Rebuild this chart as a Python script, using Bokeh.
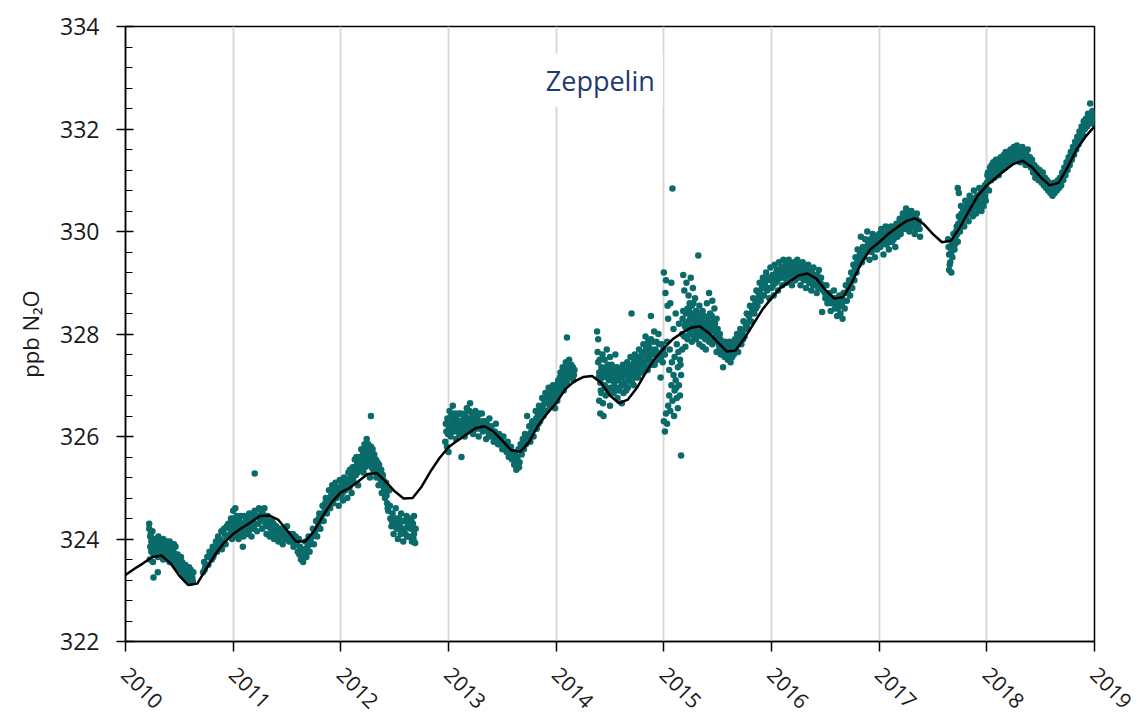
import numpy as np
from bokeh.plotting import figure
from bokeh.models import Range1d, SingleIntervalTicker, FixedTicker, Label
from bokeh.embed import file_html
from bokeh.resources import INLINE

# ---------------- data ----------------
# smoothed fit curve, monthly values (Jan..Dec) per year, plus the end value at 2019.0
fit_2010 = [323.30, 323.42, 323.53, 323.65, 323.68, 323.53, 323.28, 323.10, 323.13, 323.42, 323.70, 323.93]
fit_2011 = [324.10, 324.22, 324.33, 324.45, 324.46, 324.38, 324.17, 323.95, 323.95, 324.15, 324.45, 324.72]
fit_2012 = [324.91, 325.00, 325.13, 325.27, 325.29, 325.12, 324.93, 324.79, 324.80, 325.02, 325.32, 325.58]
fit_2013 = [325.79, 325.92, 326.04, 326.16, 326.20, 326.10, 325.92, 325.73, 325.70, 325.90, 326.22, 326.45]
fit_2014 = [326.65, 326.92, 327.07, 327.16, 327.18, 327.05, 326.80, 326.65, 326.72, 326.95, 327.25, 327.52]
fit_2015 = [327.72, 327.90, 328.02, 328.12, 328.15, 328.02, 327.84, 327.66, 327.68, 327.92, 328.20, 328.48]
fit_2016 = [328.70, 328.90, 329.02, 329.14, 329.18, 329.08, 328.86, 328.69, 328.72, 329.02, 329.38, 329.65]
fit_2017 = [329.79, 329.95, 330.08, 330.20, 330.26, 330.14, 329.95, 329.79, 329.82, 330.08, 330.40, 330.70]
fit_2018 = [330.90, 331.05, 331.19, 331.32, 331.38, 331.26, 331.06, 330.90, 330.95, 331.25, 331.60, 331.85]
fit_end = [332.05]
fit_years = [2010, 2011, 2012, 2013, 2014, 2015, 2016, 2017, 2018]

# observations: (decimal year, ppb)
obs_2010 = [(2010.22, 324.30), (2010.22, 324.20), (2010.23, 324.05), (2010.23, 323.85), (2010.24, 323.95),
            (2010.24, 323.75), (2010.25, 324.15), (2010.25, 323.90), (2010.26, 323.70), (2010.26, 323.25),
            (2010.27, 323.85), (2010.28, 324.00), (2010.28, 323.80), (2010.29, 323.95), (2010.30, 323.65),
            (2010.30, 323.35), (2010.31, 323.90), (2010.32, 323.75), (2010.33, 323.95), (2010.34, 323.85),
            (2010.35, 323.60), (2010.35, 324.00), (2010.36, 323.80), (2010.37, 323.95), (2010.38, 323.70),
            (2010.39, 323.85), (2010.40, 323.90), (2010.41, 323.55), (2010.41, 323.95), (2010.42, 323.75),
            (2010.43, 323.85), (2010.44, 323.65), (2010.45, 323.90), (2010.46, 323.50), (2010.47, 323.70),
            (2010.48, 323.60), (2010.49, 323.40), (2010.50, 323.65), (2010.51, 323.55), (2010.52, 323.45),
            (2010.53, 323.30), (2010.54, 323.50), (2010.55, 323.40), (2010.56, 323.25), (2010.57, 323.35),
            (2010.58, 323.20), (2010.59, 323.45), (2010.60, 323.30), (2010.61, 323.15), (2010.62, 323.25),
            (2010.63, 323.35), (2010.72, 323.35), (2010.73, 323.55), (2010.74, 323.45), (2010.76, 323.65),
            (2010.77, 323.50), (2010.78, 323.75), (2010.80, 323.60), (2010.81, 323.85), (2010.82, 323.70),
            (2010.84, 323.95), (2010.85, 323.75), (2010.86, 324.05), (2010.88, 323.85), (2010.89, 324.15),
            (2010.90, 323.95), (2010.92, 324.10), (2010.93, 323.90), (2010.94, 324.25), (2010.96, 324.05),
            (2010.97, 324.20), (2010.98, 324.40), (2010.99, 324.00),
            (2010.225, 323.60), (2010.235, 324.10), (2010.245, 323.80), (2010.255, 323.55), (2010.265, 324.00),
            (2010.275, 323.70), (2010.285, 323.90), (2010.295, 323.80), (2010.305, 324.05), (2010.315, 323.70),
            (2010.325, 323.85), (2010.335, 323.65), (2010.345, 323.95), (2010.355, 323.75), (2010.365, 323.65),
            (2010.375, 323.85), (2010.385, 323.95), (2010.395, 323.60), (2010.405, 323.80), (2010.415, 323.70),
            (2010.425, 323.90), (2010.435, 323.60), (2010.445, 323.75), (2010.455, 323.55), (2010.465, 323.85),
            (2010.475, 323.45), (2010.485, 323.70), (2010.495, 323.50), (2010.505, 323.40), (2010.515, 323.65),
            (2010.525, 323.55), (2010.535, 323.40), (2010.545, 323.30), (2010.555, 323.50), (2010.565, 323.20),
            (2010.575, 323.40), (2010.585, 323.30), (2010.595, 323.15), (2010.605, 323.40), (2010.615, 323.30),
            (2010.625, 323.18), (2010.735, 323.40), (2010.755, 323.50), (2010.775, 323.65), (2010.795, 323.75),
            (2010.815, 323.65), (2010.835, 323.80), (2010.855, 323.90), (2010.875, 324.00), (2010.895, 323.80),
            (2010.915, 324.20), (2010.935, 324.05), (2010.955, 324.30), (2010.975, 324.10), (2010.995, 324.30)]
obs_2011 = [(2011.00, 324.55), (2011.01, 324.20), (2011.02, 324.60), (2011.03, 324.10), (2011.04, 324.35),
            (2011.05, 324.00), (2011.06, 324.25), (2011.07, 324.45), (2011.08, 324.15), (2011.09, 323.85),
            (2011.10, 324.30), (2011.11, 324.20), (2011.12, 324.40), (2011.13, 324.10), (2011.14, 324.30),
            (2011.15, 324.50), (2011.16, 324.25), (2011.17, 324.05), (2011.18, 324.35), (2011.20, 325.28),
            (2011.20, 324.55), (2011.21, 324.30), (2011.22, 324.15), (2011.23, 324.45), (2011.24, 324.60),
            (2011.25, 324.35), (2011.26, 324.55), (2011.27, 324.20), (2011.28, 324.40), (2011.29, 324.60),
            (2011.30, 324.30), (2011.31, 324.10), (2011.32, 324.45), (2011.33, 324.25), (2011.34, 324.05),
            (2011.35, 324.20), (2011.36, 324.35), (2011.37, 324.15), (2011.38, 324.00), (2011.40, 324.25),
            (2011.41, 324.10), (2011.42, 323.95), (2011.44, 324.20), (2011.45, 324.05), (2011.46, 323.90),
            (2011.48, 324.15), (2011.49, 324.00), (2011.50, 324.25), (2011.52, 323.95), (2011.53, 324.10),
            (2011.55, 324.00), (2011.56, 323.85), (2011.58, 324.05), (2011.59, 323.90), (2011.60, 323.75),
            (2011.61, 324.00), (2011.62, 323.85), (2011.63, 323.60), (2011.64, 323.70), (2011.65, 323.55),
            (2011.66, 323.80), (2011.67, 323.95), (2011.68, 323.65), (2011.69, 323.85), (2011.70, 324.05),
            (2011.71, 323.75), (2011.72, 324.00), (2011.74, 324.20), (2011.75, 323.90), (2011.76, 324.10),
            (2011.77, 324.35), (2011.78, 324.05), (2011.79, 324.30), (2011.80, 324.50), (2011.81, 324.20),
            (2011.82, 324.45), (2011.83, 324.65), (2011.84, 324.35), (2011.85, 324.60), (2011.86, 324.80),
            (2011.87, 324.50), (2011.88, 324.75), (2011.89, 324.95), (2011.90, 324.60), (2011.91, 324.85),
            (2011.92, 325.05), (2011.93, 324.70), (2011.94, 324.95), (2011.95, 325.10), (2011.96, 324.80),
            (2011.97, 325.00), (2011.98, 324.65), (2011.99, 325.15),
            (2011.005, 324.40), (2011.015, 324.05), (2011.025, 324.30), (2011.035, 324.45), (2011.045, 324.15),
            (2011.055, 324.35), (2011.065, 324.10), (2011.075, 324.30), (2011.085, 324.25), (2011.095, 324.05),
            (2011.105, 324.45), (2011.115, 324.35), (2011.125, 324.20), (2011.135, 324.45), (2011.145, 324.15),
            (2011.155, 324.35), (2011.165, 324.40), (2011.175, 324.20), (2011.185, 324.50), (2011.195, 324.25),
            (2011.215, 324.45), (2011.235, 324.30), (2011.255, 324.45), (2011.275, 324.50), (2011.295, 324.40),
            (2011.315, 324.25), (2011.335, 324.35), (2011.355, 324.10), (2011.375, 324.30), (2011.395, 324.15),
            (2011.415, 324.20), (2011.435, 324.05), (2011.455, 324.15), (2011.475, 324.00), (2011.495, 324.10),
            (2011.515, 324.05), (2011.535, 323.95), (2011.555, 324.10), (2011.575, 323.95), (2011.595, 324.00),
            (2011.615, 323.70), (2011.635, 323.80), (2011.655, 323.65), (2011.675, 323.75), (2011.695, 323.95),
            (2011.715, 323.90), (2011.735, 324.05), (2011.755, 324.15), (2011.775, 324.20), (2011.795, 324.40),
            (2011.815, 324.35), (2011.835, 324.50), (2011.855, 324.70), (2011.875, 324.65), (2011.895, 324.80),
            (2011.915, 324.75), (2011.935, 324.90), (2011.955, 324.95), (2011.975, 324.85), (2011.995, 324.95)]
obs_2012 = [(2012.00, 324.85), (2012.01, 325.05), (2012.02, 324.75), (2012.03, 325.20), (2012.04, 324.95),
            (2012.05, 325.10), (2012.06, 324.80), (2012.07, 325.30), (2012.08, 325.00), (2012.09, 325.20),
            (2012.10, 324.90), (2012.11, 325.40), (2012.12, 325.10), (2012.13, 325.55), (2012.14, 325.25),
            (2012.15, 325.45), (2012.16, 325.05), (2012.17, 325.60), (2012.18, 325.35), (2012.19, 325.75),
            (2012.20, 325.50), (2012.21, 325.30), (2012.22, 325.85), (2012.23, 325.60), (2012.24, 325.95),
            (2012.25, 325.45), (2012.26, 325.70), (2012.27, 325.20), (2012.28, 326.40), (2012.28, 325.80),
            (2012.29, 325.55), (2012.30, 325.35), (2012.31, 325.65), (2012.32, 325.45), (2012.33, 325.20),
            (2012.34, 325.50), (2012.35, 325.05), (2012.36, 325.35), (2012.37, 325.15), (2012.38, 324.90),
            (2012.39, 325.25), (2012.40, 325.00), (2012.41, 324.80), (2012.42, 325.10), (2012.43, 324.70),
            (2012.44, 324.55), (2012.45, 324.95), (2012.46, 324.40), (2012.47, 324.25), (2012.48, 324.50),
            (2012.49, 324.10), (2012.50, 324.35), (2012.51, 324.60), (2012.52, 324.20), (2012.53, 324.00),
            (2012.54, 324.40), (2012.55, 324.25), (2012.56, 324.50), (2012.57, 324.15), (2012.58, 323.95),
            (2012.59, 324.35), (2012.60, 324.10), (2012.61, 324.45), (2012.62, 324.25), (2012.63, 324.05),
            (2012.64, 324.40), (2012.65, 324.20), (2012.66, 323.95), (2012.67, 324.30), (2012.68, 324.10),
            (2012.68, 324.45), (2012.69, 323.92), (2012.97, 325.90), (2012.98, 326.10), (2012.99, 326.35),
            (2012.005, 325.00), (2012.015, 324.90), (2012.025, 325.10), (2012.035, 324.95), (2012.045, 325.15),
            (2012.055, 325.00), (2012.065, 325.15), (2012.075, 325.05), (2012.085, 325.35), (2012.095, 325.10),
            (2012.105, 325.25), (2012.115, 325.15), (2012.125, 325.35), (2012.135, 325.40), (2012.145, 325.60),
            (2012.155, 325.30), (2012.165, 325.50), (2012.175, 325.40), (2012.185, 325.60), (2012.195, 325.45),
            (2012.205, 325.70), (2012.215, 325.55), (2012.225, 325.40), (2012.235, 325.75), (2012.245, 325.55),
            (2012.255, 325.85), (2012.265, 325.50), (2012.275, 325.65), (2012.285, 325.40), (2012.295, 325.75),
            (2012.305, 325.50), (2012.315, 325.30), (2012.325, 325.55), (2012.335, 325.35), (2012.345, 325.25),
            (2012.355, 325.45), (2012.365, 325.20), (2012.375, 325.35), (2012.385, 325.05), (2012.395, 325.15),
            (2012.405, 324.90), (2012.415, 325.00), (2012.425, 324.85), (2012.435, 324.60), (2012.455, 324.65),
            (2012.475, 324.35), (2012.495, 324.25), (2012.515, 324.40), (2012.535, 324.30), (2012.555, 324.10),
            (2012.575, 324.35), (2012.595, 324.20), (2012.615, 324.05), (2012.635, 324.30), (2012.655, 324.35),
            (2012.675, 324.00), (2012.695, 324.20), (2012.975, 326.25), (2012.985, 325.80), (2012.995, 326.05)]
obs_2013 = [(2013.00, 325.70), (2013.00, 326.20), (2013.01, 326.50), (2013.02, 326.00), (2013.03, 326.25),
            (2013.04, 326.60), (2013.05, 326.10), (2013.06, 326.35), (2013.07, 325.95), (2013.08, 326.20),
            (2013.09, 326.45), (2013.10, 326.05), (2013.11, 326.30), (2013.12, 325.60), (2013.13, 326.15),
            (2013.14, 326.40), (2013.15, 326.00), (2013.16, 326.25), (2013.17, 326.55), (2013.18, 326.10),
            (2013.19, 326.35), (2013.20, 326.65), (2013.21, 326.15), (2013.22, 326.45), (2013.23, 326.05),
            (2013.24, 326.30), (2013.25, 326.50), (2013.26, 326.20), (2013.27, 326.40), (2013.28, 326.00),
            (2013.30, 326.25), (2013.31, 326.45), (2013.32, 326.10), (2013.34, 326.30), (2013.35, 325.95),
            (2013.36, 326.15), (2013.38, 326.35), (2013.39, 326.00), (2013.40, 326.20), (2013.42, 325.90),
            (2013.43, 326.10), (2013.44, 326.25), (2013.46, 325.85), (2013.47, 326.05), (2013.48, 325.95),
            (2013.50, 325.75), (2013.51, 326.00), (2013.52, 325.85), (2013.54, 325.70), (2013.55, 325.90),
            (2013.56, 325.60), (2013.58, 325.80), (2013.59, 325.55), (2013.60, 325.70), (2013.61, 325.45),
            (2013.62, 325.65), (2013.63, 325.35), (2013.64, 325.55), (2013.65, 325.75), (2013.66, 325.50),
            (2013.67, 325.85), (2013.68, 325.65), (2013.69, 325.95), (2013.70, 325.75), (2013.71, 326.05),
            (2013.72, 325.85), (2013.73, 326.40), (2013.74, 326.00), (2013.75, 326.20), (2013.76, 325.90),
            (2013.77, 326.10), (2013.78, 326.30), (2013.79, 326.00), (2013.80, 326.25), (2013.81, 326.50),
            (2013.82, 326.15), (2013.83, 326.40), (2013.84, 326.60), (2013.85, 326.30), (2013.86, 326.55),
            (2013.87, 326.75), (2013.88, 326.40), (2013.89, 326.65), (2013.90, 326.85), (2013.91, 326.50),
            (2013.92, 326.75), (2013.93, 326.95), (2013.94, 326.60), (2013.95, 326.85), (2013.96, 326.65),
            (2013.97, 327.00), (2013.98, 326.80), (2013.99, 326.55),
            (2013.005, 326.35), (2013.015, 326.10), (2013.025, 326.40), (2013.035, 326.15), (2013.045, 326.30),
            (2013.055, 326.45), (2013.065, 326.20), (2013.075, 326.40), (2013.085, 326.10), (2013.095, 326.30),
            (2013.105, 326.20), (2013.115, 326.45), (2013.125, 326.25), (2013.135, 326.05), (2013.145, 326.30),
            (2013.155, 326.45), (2013.165, 326.15), (2013.175, 326.35), (2013.185, 326.25), (2013.195, 326.50),
            (2013.205, 326.30), (2013.215, 326.10), (2013.225, 326.35), (2013.235, 326.20), (2013.245, 326.45),
            (2013.255, 326.15), (2013.265, 326.35), (2013.275, 326.25), (2013.285, 326.45), (2013.295, 326.15),
            (2013.315, 326.30), (2013.335, 326.15), (2013.355, 326.25), (2013.375, 326.05), (2013.395, 326.15),
            (2013.415, 326.05), (2013.435, 325.95), (2013.455, 326.05), (2013.475, 325.85), (2013.495, 325.90),
            (2013.515, 325.80), (2013.535, 325.85), (2013.555, 325.75), (2013.575, 325.65), (2013.595, 325.60),
            (2013.615, 325.55), (2013.635, 325.60), (2013.655, 325.40), (2013.675, 325.75), (2013.695, 325.80),
            (2013.715, 325.95), (2013.735, 325.90), (2013.755, 326.05), (2013.775, 326.25), (2013.795, 326.15),
            (2013.815, 326.35), (2013.835, 326.25), (2013.855, 326.45), (2013.875, 326.55), (2013.895, 326.50),
            (2013.915, 326.65), (2013.935, 326.75), (2013.955, 326.70), (2013.975, 326.90), (2013.995, 326.75)]
obs_2014 = [(2014.00, 326.95), (2014.01, 326.70), (2014.02, 327.10), (2014.03, 326.85), (2014.04, 327.25),
            (2014.05, 327.00), (2014.06, 327.35), (2014.07, 326.90), (2014.08, 327.15), (2014.09, 327.45),
            (2014.10, 327.93), (2014.10, 327.05), (2014.11, 327.30), (2014.12, 327.50), (2014.13, 327.20),
            (2014.14, 327.40), (2014.16, 327.10), (2014.17, 327.30), (2014.38, 328.05), (2014.39, 327.90),
            (2014.39, 327.45), (2014.40, 327.25), (2014.40, 326.70), (2014.41, 327.05), (2014.41, 326.45),
            (2014.42, 327.35), (2014.42, 326.85), (2014.43, 327.60), (2014.43, 327.15), (2014.44, 326.40),
            (2014.45, 327.00), (2014.45, 327.50), (2014.46, 326.80), (2014.46, 327.25), (2014.47, 327.70),
            (2014.47, 326.95), (2014.48, 327.40), (2014.49, 327.10), (2014.50, 326.60), (2014.50, 327.55),
            (2014.51, 327.20), (2014.52, 326.90), (2014.53, 327.35), (2014.54, 327.05), (2014.55, 327.60),
            (2014.56, 327.15), (2014.57, 326.75), (2014.58, 327.30), (2014.59, 326.95), (2014.60, 327.20),
            (2014.61, 326.65), (2014.62, 327.40), (2014.63, 327.05), (2014.64, 327.25), (2014.65, 326.90),
            (2014.66, 327.45), (2014.67, 327.10), (2014.68, 327.30), (2014.69, 327.55), (2014.70, 328.40),
            (2014.70, 327.20), (2014.71, 327.40), (2014.72, 327.00), (2014.73, 327.60), (2014.74, 327.25),
            (2014.75, 327.45), (2014.76, 327.15), (2014.77, 327.70), (2014.78, 327.35), (2014.79, 327.55),
            (2014.80, 327.25), (2014.81, 327.80), (2014.82, 327.45), (2014.83, 327.95), (2014.84, 327.60),
            (2014.85, 327.30), (2014.86, 327.75), (2014.87, 327.50), (2014.88, 328.35), (2014.88, 327.90),
            (2014.89, 327.65), (2014.90, 327.40), (2014.91, 328.05), (2014.92, 327.70), (2014.93, 327.85),
            (2014.94, 327.50), (2014.95, 328.00), (2014.96, 327.60), (2014.97, 327.15), (2014.98, 327.80),
            (2014.99, 327.45),
            (2014.005, 326.80), (2014.015, 327.05), (2014.025, 326.95), (2014.035, 327.15), (2014.045, 327.05),
            (2014.055, 327.20), (2014.065, 327.10), (2014.075, 327.30), (2014.085, 327.00), (2014.095, 327.25),
            (2014.105, 327.40), (2014.115, 327.15), (2014.125, 327.35), (2014.135, 327.25), (2014.155, 327.35),
            (2014.165, 327.20), (2014.385, 327.65), (2014.395, 327.15), (2014.405, 327.50), (2014.415, 326.90),
            (2014.425, 327.30), (2014.435, 326.65), (2014.445, 327.20), (2014.455, 326.95), (2014.465, 327.35),
            (2014.475, 327.15), (2014.485, 326.85), (2014.495, 327.30), (2014.505, 326.95), (2014.515, 327.40),
            (2014.525, 327.10), (2014.535, 326.85), (2014.545, 327.25), (2014.555, 326.95), (2014.565, 327.35),
            (2014.575, 327.10), (2014.585, 326.90), (2014.595, 327.30), (2014.605, 327.00), (2014.615, 327.15),
            (2014.625, 326.85), (2014.635, 327.30), (2014.645, 327.00), (2014.655, 327.20), (2014.665, 326.95),
            (2014.675, 327.35), (2014.685, 327.15), (2014.695, 327.40), (2014.705, 327.05), (2014.715, 327.30),
            (2014.725, 327.50), (2014.735, 327.15), (2014.745, 327.40), (2014.755, 327.30), (2014.765, 327.55),
            (2014.775, 327.25), (2014.785, 327.45), (2014.795, 327.65), (2014.805, 327.40), (2014.815, 327.60),
            (2014.825, 327.35), (2014.835, 327.70), (2014.845, 327.50), (2014.855, 327.85), (2014.865, 327.60),
            (2014.875, 327.40), (2014.885, 327.70), (2014.895, 327.85), (2014.905, 327.60), (2014.915, 327.40),
            (2014.935, 327.65), (2014.955, 327.80), (2014.975, 327.55), (2014.995, 327.70)]
obs_2015 = [(2015.00, 329.20), (2015.00, 326.30), (2015.01, 326.10), (2015.01, 327.60), (2015.02, 329.05),
            (2015.02, 326.45), (2015.03, 326.25), (2015.03, 327.85), (2015.04, 326.60), (2015.04, 328.30),
            (2015.05, 326.80), (2015.05, 327.30), (2015.06, 326.50), (2015.06, 328.60), (2015.07, 327.00),
            (2015.07, 329.00), (2015.08, 330.84), (2015.08, 326.70), (2015.09, 327.20), (2015.09, 328.10),
            (2015.10, 326.90), (2015.10, 327.55), (2015.11, 327.10), (2015.11, 328.40), (2015.12, 326.75),
            (2015.12, 327.80), (2015.13, 327.35), (2015.13, 326.55), (2015.14, 327.00), (2015.14, 328.20),
            (2015.15, 327.50), (2015.15, 326.80), (2015.16, 325.63), (2015.16, 327.20), (2015.17, 328.00),
            (2015.17, 327.70), (2015.18, 329.15), (2015.18, 328.45), (2015.19, 327.95), (2015.19, 328.85),
            (2015.20, 328.20), (2015.20, 327.75), (2015.21, 329.00), (2015.21, 328.10), (2015.22, 328.50),
            (2015.22, 327.90), (2015.23, 328.75), (2015.23, 328.25), (2015.24, 328.00), (2015.24, 328.60),
            (2015.25, 329.10), (2015.25, 328.35), (2015.26, 327.85), (2015.26, 328.55), (2015.27, 328.15),
            (2015.27, 328.90), (2015.28, 328.40), (2015.28, 327.95), (2015.29, 328.70), (2015.29, 328.20),
            (2015.30, 327.90), (2015.30, 328.45), (2015.31, 328.10), (2015.32, 329.53), (2015.32, 328.30),
            (2015.33, 327.80), (2015.33, 328.55), (2015.34, 328.05), (2015.35, 328.25), (2015.36, 327.75),
            (2015.36, 328.45), (2015.37, 328.00), (2015.38, 328.20), (2015.39, 327.70), (2015.40, 328.60),
            (2015.40, 327.95), (2015.41, 328.15), (2015.42, 328.80), (2015.42, 327.85), (2015.43, 328.40),
            (2015.44, 328.05), (2015.45, 328.65), (2015.45, 327.80), (2015.46, 328.25), (2015.47, 328.50),
            (2015.48, 327.95), (2015.49, 328.30), (2015.49, 327.65), (2015.50, 328.10), (2015.51, 327.85),
            (2015.52, 328.00), (2015.53, 327.60), (2015.54, 327.80), (2015.55, 327.35), (2015.56, 327.70),
            (2015.57, 327.85), (2015.58, 327.55), (2015.59, 327.75), (2015.60, 327.65), (2015.61, 327.85),
            (2015.62, 327.45), (2015.63, 327.70), (2015.64, 327.80), (2015.65, 327.60), (2015.66, 327.90),
            (2015.67, 327.75), (2015.68, 328.00), (2015.69, 327.65), (2015.70, 327.90), (2015.71, 328.10),
            (2015.72, 327.80), (2015.73, 328.05), (2015.74, 328.25), (2015.75, 327.95), (2015.76, 328.20),
            (2015.77, 328.40), (2015.78, 328.10), (2015.79, 328.35), (2015.80, 328.55), (2015.81, 328.25),
            (2015.82, 328.50), (2015.83, 328.70), (2015.84, 328.40), (2015.85, 328.65), (2015.86, 328.85),
            (2015.87, 328.55), (2015.88, 328.80), (2015.89, 329.00), (2015.90, 328.65), (2015.91, 328.90),
            (2015.92, 329.10), (2015.93, 328.75), (2015.94, 329.00), (2015.95, 329.20), (2015.96, 328.85),
            (2015.97, 329.10), (2015.98, 328.70), (2015.99, 329.30),
            (2015.015, 328.80), (2015.035, 328.55), (2015.055, 327.70), (2015.075, 327.45), (2015.095, 326.40),
            (2015.115, 326.95), (2015.135, 327.65), (2015.155, 327.40), (2015.175, 328.30), (2015.195, 328.15),
            (2015.205, 328.40), (2015.215, 327.95), (2015.225, 328.20), (2015.235, 328.45), (2015.245, 328.30),
            (2015.255, 328.10), (2015.265, 328.30), (2015.275, 328.60), (2015.285, 328.25), (2015.295, 328.05),
            (2015.305, 328.35), (2015.315, 328.00), (2015.325, 328.20), (2015.335, 328.40), (2015.345, 328.15),
            (2015.355, 327.95), (2015.365, 328.10), (2015.375, 328.35), (2015.385, 327.90), (2015.395, 328.10),
            (2015.405, 328.30), (2015.415, 328.00), (2015.425, 328.20), (2015.435, 327.90), (2015.445, 328.35),
            (2015.455, 328.10), (2015.465, 327.90), (2015.475, 328.20), (2015.485, 328.05), (2015.495, 327.85),
            (2015.505, 328.00), (2015.515, 327.75), (2015.525, 327.90), (2015.535, 327.70), (2015.545, 327.60),
            (2015.555, 327.80), (2015.565, 327.55), (2015.575, 327.70), (2015.585, 327.65), (2015.595, 327.50),
            (2015.605, 327.75), (2015.615, 327.60), (2015.625, 327.80), (2015.635, 327.55), (2015.655, 327.70),
            (2015.675, 327.85), (2015.695, 327.80), (2015.715, 327.95), (2015.735, 327.90), (2015.755, 328.10),
            (2015.775, 328.20), (2015.795, 328.25), (2015.815, 328.40), (2015.835, 328.55), (2015.855, 328.50),
            (2015.875, 328.70), (2015.895, 328.80), (2015.915, 328.75), (2015.935, 328.90), (2015.955, 329.05),
            (2015.975, 328.90), (2015.995, 329.05)]
obs_2016 = [(2016.00, 328.90), (2016.01, 329.15), (2016.02, 328.75), (2016.03, 329.35), (2016.04, 329.00),
            (2016.05, 329.25), (2016.06, 328.85), (2016.07, 329.40), (2016.08, 329.10), (2016.09, 329.30),
            (2016.10, 328.95), (2016.11, 329.45), (2016.12, 329.15), (2016.13, 329.35), (2016.14, 329.00),
            (2016.15, 329.25), (2016.16, 329.45), (2016.17, 329.10), (2016.18, 329.30), (2016.19, 328.95),
            (2016.20, 329.20), (2016.21, 329.40), (2016.22, 329.05), (2016.23, 329.25), (2016.24, 329.45),
            (2016.25, 329.10), (2016.26, 329.30), (2016.27, 328.95), (2016.28, 329.20), (2016.29, 329.40),
            (2016.30, 329.05), (2016.31, 329.25), (2016.32, 328.90), (2016.33, 329.15), (2016.34, 329.35),
            (2016.35, 329.00), (2016.36, 329.20), (2016.37, 328.85), (2016.38, 329.10), (2016.39, 329.30),
            (2016.40, 328.95), (2016.41, 329.15), (2016.42, 328.80), (2016.43, 329.05), (2016.44, 329.25),
            (2016.45, 328.90), (2016.46, 329.10), (2016.47, 328.43), (2016.48, 328.85), (2016.50, 328.70),
            (2016.51, 328.95), (2016.52, 328.60), (2016.54, 328.80), (2016.55, 328.45), (2016.56, 328.65),
            (2016.58, 328.85), (2016.59, 328.50), (2016.60, 328.70), (2016.61, 328.35), (2016.62, 328.55),
            (2016.63, 328.75), (2016.64, 328.40), (2016.65, 328.60), (2016.66, 328.30), (2016.67, 328.80),
            (2016.68, 328.50), (2016.69, 328.95), (2016.70, 328.65), (2016.71, 328.85), (2016.72, 329.05),
            (2016.73, 328.75), (2016.74, 329.20), (2016.75, 328.90), (2016.76, 329.35), (2016.77, 329.05),
            (2016.78, 329.50), (2016.79, 329.20), (2016.80, 329.65), (2016.81, 329.35), (2016.82, 329.55),
            (2016.83, 329.90), (2016.84, 329.40), (2016.85, 329.70), (2016.86, 329.50), (2016.87, 329.85),
            (2016.88, 329.60), (2016.89, 330.00), (2016.90, 329.70), (2016.91, 329.45), (2016.92, 329.85),
            (2016.93, 329.60), (2016.94, 329.95), (2016.95, 329.70), (2016.96, 329.50), (2016.97, 329.90),
            (2016.98, 329.65), (2016.99, 329.80),
            (2016.005, 329.05), (2016.015, 328.95), (2016.025, 329.10), (2016.035, 329.15), (2016.045, 329.20),
            (2016.055, 329.05), (2016.065, 329.20), (2016.075, 329.10), (2016.085, 329.25), (2016.095, 329.15),
            (2016.105, 329.30), (2016.115, 329.10), (2016.125, 329.25), (2016.135, 329.20), (2016.145, 329.35),
            (2016.155, 329.15), (2016.165, 329.30), (2016.175, 329.20), (2016.185, 329.15), (2016.195, 329.35),
            (2016.205, 329.10), (2016.215, 329.25), (2016.225, 329.30), (2016.235, 329.15), (2016.245, 329.25),
            (2016.255, 329.35), (2016.265, 329.15), (2016.275, 329.30), (2016.285, 329.10), (2016.295, 329.20),
            (2016.305, 329.30), (2016.315, 329.10), (2016.325, 329.25), (2016.335, 329.05), (2016.345, 329.20),
            (2016.355, 329.10), (2016.365, 329.05), (2016.375, 329.25), (2016.385, 328.95), (2016.395, 329.15),
            (2016.405, 329.05), (2016.415, 329.00), (2016.425, 329.15), (2016.435, 328.90), (2016.455, 329.00),
            (2016.475, 328.95), (2016.495, 328.80), (2016.515, 328.75), (2016.535, 328.70), (2016.555, 328.60),
            (2016.575, 328.70), (2016.595, 328.60), (2016.615, 328.50), (2016.635, 328.65), (2016.655, 328.55),
            (2016.675, 328.65), (2016.695, 328.80), (2016.715, 328.95), (2016.735, 329.00), (2016.755, 329.15),
            (2016.775, 329.30), (2016.795, 329.40), (2016.815, 329.50), (2016.835, 329.60), (2016.855, 329.65),
            (2016.875, 329.70), (2016.895, 329.80), (2016.915, 329.65), (2016.935, 329.75), (2016.955, 329.85),
            (2016.975, 329.75), (2016.995, 329.90)]
obs_2017 = [(2017.00, 329.95), (2017.01, 329.70), (2017.02, 330.05), (2017.03, 329.80), (2017.04, 329.55),
            (2017.05, 329.95), (2017.06, 330.10), (2017.07, 329.75), (2017.08, 330.00), (2017.09, 329.65),
            (2017.10, 329.90), (2017.11, 330.10), (2017.12, 329.80), (2017.13, 330.05), (2017.14, 329.95),
            (2017.15, 329.70), (2017.16, 330.15), (2017.17, 329.90), (2017.18, 330.05), (2017.19, 330.25),
            (2017.20, 329.95), (2017.21, 330.15), (2017.22, 330.35), (2017.23, 330.05), (2017.24, 330.25),
            (2017.25, 330.45), (2017.26, 330.10), (2017.27, 330.30), (2017.28, 330.00), (2017.29, 330.20),
            (2017.30, 330.40), (2017.31, 330.10), (2017.32, 330.25), (2017.33, 329.95), (2017.34, 330.15),
            (2017.35, 330.35), (2017.36, 330.05), (2017.37, 330.20), (2017.38, 329.90), (2017.64, 329.85),
            (2017.65, 329.55), (2017.65, 329.25), (2017.66, 329.70), (2017.66, 329.40), (2017.67, 329.60),
            (2017.67, 329.20), (2017.68, 329.80), (2017.68, 329.50), (2017.69, 329.95), (2017.70, 329.65),
            (2017.73, 330.85), (2017.74, 330.75), (2017.71, 329.90), (2017.72, 330.10), (2017.73, 329.80),
            (2017.74, 330.30), (2017.75, 330.00), (2017.76, 330.50), (2017.77, 330.20), (2017.78, 330.40),
            (2017.79, 330.10), (2017.80, 330.60), (2017.81, 330.30), (2017.82, 330.50), (2017.83, 330.20),
            (2017.84, 330.70), (2017.85, 330.40), (2017.86, 330.60), (2017.87, 330.30), (2017.88, 330.80),
            (2017.89, 330.50), (2017.90, 330.35), (2017.91, 330.70), (2017.92, 330.45), (2017.93, 330.85),
            (2017.94, 330.55), (2017.95, 330.40), (2017.96, 330.75), (2017.97, 330.50), (2017.98, 330.90),
            (2017.99, 330.60),
            (2017.005, 329.85), (2017.015, 329.90), (2017.025, 329.80), (2017.035, 329.95), (2017.045, 329.85),
            (2017.055, 329.75), (2017.065, 329.90), (2017.075, 330.00), (2017.085, 329.85), (2017.095, 329.95),
            (2017.105, 329.80), (2017.115, 329.95), (2017.125, 330.05), (2017.135, 329.85), (2017.145, 330.10),
            (2017.155, 329.95), (2017.165, 330.05), (2017.175, 330.15), (2017.185, 329.95), (2017.195, 330.10),
            (2017.205, 330.20), (2017.215, 330.05), (2017.225, 330.15), (2017.235, 330.25), (2017.245, 330.10),
            (2017.255, 330.20), (2017.265, 330.35), (2017.275, 330.15), (2017.285, 330.30), (2017.295, 330.10),
            (2017.305, 330.20), (2017.315, 330.30), (2017.325, 330.15), (2017.335, 330.05), (2017.345, 330.25),
            (2017.355, 330.10), (2017.365, 330.15), (2017.375, 330.05), (2017.645, 329.70), (2017.655, 329.35),
            (2017.665, 329.55), (2017.675, 329.75), (2017.685, 329.65), (2017.695, 329.80), (2017.705, 329.75),
            (2017.715, 330.00), (2017.725, 329.95), (2017.735, 330.15), (2017.745, 330.05), (2017.755, 330.25),
            (2017.765, 330.35), (2017.775, 330.15), (2017.785, 330.30), (2017.795, 330.45), (2017.805, 330.40),
            (2017.815, 330.55), (2017.825, 330.35), (2017.835, 330.50), (2017.845, 330.55), (2017.855, 330.65),
            (2017.865, 330.45), (2017.875, 330.55), (2017.885, 330.65), (2017.895, 330.60), (2017.905, 330.55),
            (2017.915, 330.60), (2017.925, 330.70), (2017.935, 330.65), (2017.945, 330.75), (2017.955, 330.60),
            (2017.965, 330.65), (2017.975, 330.80), (2017.985, 330.70), (2017.995, 330.85)]
obs_2018 = [(2018.00, 330.95), (2018.01, 331.15), (2018.02, 330.80), (2018.03, 331.25), (2018.04, 331.00),
            (2018.05, 331.20), (2018.06, 331.35), (2018.07, 331.05), (2018.08, 331.30), (2018.09, 331.15),
            (2018.10, 331.40), (2018.11, 331.10), (2018.12, 331.30), (2018.13, 331.45), (2018.14, 331.20),
            (2018.15, 331.35), (2018.16, 331.50), (2018.17, 331.25), (2018.18, 331.40), (2018.19, 331.55),
            (2018.20, 331.30), (2018.21, 331.45), (2018.22, 331.60), (2018.23, 331.35), (2018.24, 331.50),
            (2018.25, 331.65), (2018.26, 331.40), (2018.27, 331.55), (2018.28, 331.68), (2018.29, 331.45),
            (2018.30, 331.60), (2018.31, 331.35), (2018.32, 331.55), (2018.33, 331.65), (2018.34, 331.40),
            (2018.35, 331.55), (2018.36, 331.30), (2018.37, 331.50), (2018.38, 331.60), (2018.39, 331.35),
            (2018.40, 331.45), (2018.41, 331.25), (2018.42, 331.40), (2018.43, 331.15), (2018.44, 331.30),
            (2018.45, 331.05), (2018.46, 331.25), (2018.47, 331.10), (2018.48, 331.00), (2018.49, 331.20),
            (2018.50, 331.05), (2018.51, 330.95), (2018.52, 331.15), (2018.53, 330.90), (2018.54, 331.05),
            (2018.55, 330.85), (2018.56, 331.00), (2018.57, 330.80), (2018.58, 330.95), (2018.59, 330.75),
            (2018.60, 330.90), (2018.61, 330.70), (2018.62, 330.85), (2018.63, 330.75), (2018.64, 330.95),
            (2018.65, 330.80), (2018.66, 331.00), (2018.67, 330.85), (2018.68, 331.05), (2018.69, 330.90),
            (2018.70, 331.15), (2018.71, 331.00), (2018.72, 331.25), (2018.73, 331.10), (2018.74, 331.35),
            (2018.75, 331.20), (2018.76, 331.45), (2018.77, 331.30), (2018.78, 331.55), (2018.79, 331.40),
            (2018.80, 331.65), (2018.81, 331.50), (2018.82, 331.75), (2018.83, 331.60), (2018.84, 331.85),
            (2018.85, 331.70), (2018.86, 331.95), (2018.87, 331.80), (2018.88, 332.05), (2018.89, 331.90),
            (2018.90, 332.15), (2018.91, 332.00), (2018.92, 332.20), (2018.93, 332.05), (2018.94, 332.30),
            (2018.95, 332.10), (2018.96, 332.50), (2018.96, 332.25), (2018.97, 332.15), (2018.98, 332.35),
            (2018.99, 332.20), (2019.00, 332.10),
            (2018.005, 331.10), (2018.015, 331.00), (2018.025, 331.10), (2018.035, 331.15), (2018.045, 331.30),
            (2018.055, 331.10), (2018.065, 331.25), (2018.075, 331.20), (2018.085, 331.40), (2018.095, 331.25),
            (2018.105, 331.20), (2018.115, 331.35), (2018.125, 331.40), (2018.135, 331.30), (2018.145, 331.45),
            (2018.155, 331.40), (2018.165, 331.35), (2018.175, 331.55), (2018.185, 331.45), (2018.195, 331.40),
            (2018.205, 331.55), (2018.215, 331.50), (2018.225, 331.45), (2018.235, 331.60), (2018.245, 331.40),
            (2018.255, 331.55), (2018.265, 331.60), (2018.275, 331.45), (2018.285, 331.60), (2018.295, 331.50),
            (2018.305, 331.45), (2018.315, 331.55), (2018.325, 331.45), (2018.335, 331.50), (2018.345, 331.55),
            (2018.355, 331.45), (2018.365, 331.40), (2018.375, 331.40), (2018.385, 331.45), (2018.395, 331.30),
            (2018.405, 331.35), (2018.415, 331.30), (2018.425, 331.25), (2018.435, 331.20), (2018.445, 331.20),
            (2018.455, 331.15), (2018.465, 331.05), (2018.475, 331.20), (2018.485, 331.10), (2018.495, 331.00),
            (2018.505, 331.10), (2018.515, 331.00), (2018.525, 331.05), (2018.535, 330.95), (2018.545, 330.90),
            (2018.555, 330.95), (2018.565, 330.90), (2018.575, 330.85), (2018.585, 330.85), (2018.595, 330.80),
            (2018.605, 330.80), (2018.615, 330.80), (2018.625, 330.95), (2018.635, 330.85), (2018.645, 330.85),
            (2018.655, 330.90), (2018.665, 330.90), (2018.675, 330.95), (2018.685, 330.95), (2018.695, 331.05),
            (2018.705, 331.05), (2018.715, 331.10), (2018.725, 331.15), (2018.735, 331.20), (2018.745, 331.25),
            (2018.755, 331.35), (2018.765, 331.35), (2018.775, 331.40), (2018.785, 331.45), (2018.795, 331.55),
            (2018.805, 331.55), (2018.815, 331.60), (2018.825, 331.65), (2018.835, 331.75), (2018.845, 331.75),
            (2018.855, 331.80), (2018.865, 331.85), (2018.875, 331.90), (2018.885, 331.95), (2018.895, 332.00),
            (2018.905, 332.05), (2018.915, 332.10), (2018.925, 332.10), (2018.935, 332.15), (2018.945, 332.20),
            (2018.955, 332.15), (2018.965, 332.20), (2018.975, 332.25), (2018.985, 332.20), (2018.995, 332.30)]

year_ticks = [2010, 2011, 2012, 2013, 2014, 2015, 2016, 2017, 2018, 2019]
title_text = "Zeppelin"
y_label = "ppb N\u2082O"

# ---------------- assemble ----------------
all_obs = obs_2010 + obs_2011 + obs_2012 + obs_2013 + obs_2014 + obs_2015 + obs_2016 + obs_2017 + obs_2018
obs_t = [t for t, v in all_obs]
obs_v = [v for t, v in all_obs]

fits = [fit_2010, fit_2011, fit_2012, fit_2013, fit_2014, fit_2015, fit_2016, fit_2017, fit_2018]
fit_t, fit_v = [], []
for yr, vals in zip(fit_years, fits):
    for m, v in enumerate(vals):
        fit_t.append(yr + m / 12.0)
        fit_v.append(v)
fit_t.append(2019.0)
fit_v.append(fit_end[0])

FONT = "Open Sans"
TXT = "#1a1a1a"

p = figure(width=1141, height=720, output_backend="svg", toolbar_location=None,
           x_range=Range1d(2010, 2019), y_range=Range1d(322, 334))
p.min_border_left = 125
p.min_border_right = 47
p.min_border_top = 26
p.min_border_bottom = 79
p.background_fill_color = "white"
p.border_fill_color = "white"
p.outline_line_color = "black"
p.outline_line_width = 1.5

# grid
p.xgrid.ticker = FixedTicker(ticks=year_ticks)
p.xgrid.grid_line_color = "#d9d9d9"
p.xgrid.grid_line_width = 2
p.ygrid.grid_line_color = None

# x axis
p.xaxis.ticker = FixedTicker(ticks=year_ticks)
p.xaxis.major_label_orientation = -np.pi / 4
p.xaxis.major_tick_in = 0
p.xaxis.major_tick_out = 10
p.xaxis.minor_tick_line_color = None
p.xaxis.axis_line_width = 1.5
p.xaxis.major_tick_line_width = 1.5
p.xaxis.major_label_text_font = FONT
p.xaxis.major_label_text_font_size = "21px"
p.xaxis.major_label_text_color = TXT
p.xaxis.major_label_standoff = 19

# y axis
p.yaxis.ticker = SingleIntervalTicker(interval=2, num_minor_ticks=5)
p.yaxis.major_tick_in = 8
p.yaxis.major_tick_out = 9
p.yaxis.minor_tick_in = 7
p.yaxis.minor_tick_out = 0
p.yaxis.axis_line_width = 1.5
p.yaxis.major_tick_line_width = 1.5
p.yaxis.minor_tick_line_width = 1.2
p.yaxis.major_label_text_font = FONT
p.yaxis.major_label_text_font_size = "23px"
p.yaxis.major_label_text_color = TXT
p.yaxis.major_label_standoff = 17
p.yaxis.axis_label = y_label
p.yaxis.axis_label_text_font = FONT
p.yaxis.axis_label_text_font_size = "22px"
p.yaxis.axis_label_text_font_style = "normal"
p.yaxis.axis_label_text_color = TXT
p.yaxis.axis_label_standoff = 12

# data
p.scatter(obs_t, obs_v, size=6.5, marker="circle", fill_color="#0b6b6b", line_color="#0b6b6b", line_width=0)
p.line(fit_t, fit_v, line_color="black", line_width=2.5)

# title label
p.add_layout(Label(x=2014.41, y=332.95, text=title_text, text_align="center", text_baseline="middle",
                   text_font=FONT, text_font_size="27px", text_color="#1f3a70",
                   background_fill_color="white", padding=8))

open("out.html", "w").write(file_html(p, INLINE))
